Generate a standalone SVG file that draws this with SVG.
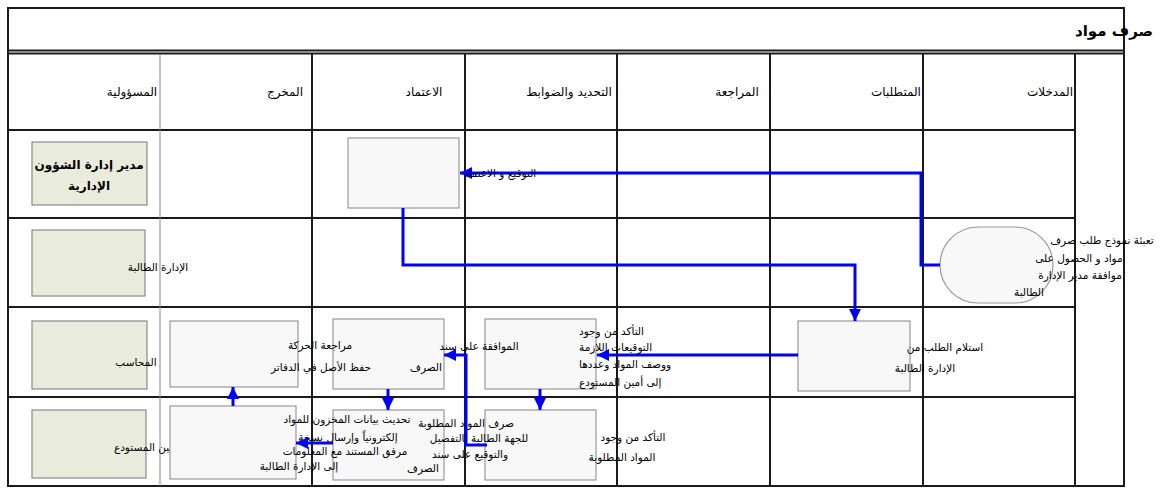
<svg xmlns="http://www.w3.org/2000/svg" width="1176" height="488" viewBox="0 0 1176 488">
<style>
  .grid{stroke:#1a1a1a;stroke-width:2;fill:none}
  .thin{stroke:#888;stroke-width:1;fill:none}
  .role{fill:#E9ECDC;stroke:#8a8a8a;stroke-width:1.2}
  .box{fill:#F8F8F8;stroke:#999;stroke-width:1.2}
  .t{font-family:"DejaVu Sans","Noto Sans",sans-serif;font-size:10.5px;fill:#000}
  .h{font-family:"DejaVu Sans","Noto Sans",sans-serif;font-size:12px;fill:#000}
  .b{font-family:"DejaVu Sans","Noto Sans",sans-serif;font-size:12px;font-weight:bold;fill:#000}
  .ttl{font-family:"DejaVu Sans","Noto Sans",sans-serif;font-size:15px;font-weight:bold;fill:#000}
  .c{stroke:#0000FF;stroke-width:3;fill:none}
</style>
<defs>
  <marker id="ah" markerUnits="userSpaceOnUse" markerWidth="14" markerHeight="14" refX="12" refY="6" orient="auto">
    <path d="M0,0 L12,6 L0,12 z" fill="#0000FF"/>
  </marker>
</defs>
<rect width="1176" height="488" fill="#fff"/>

<g id="table">
  <rect x="8" y="8" width="1116" height="478" class="grid"/>
  <line x1="8" y1="50.5" x2="1124" y2="50.5" class="grid" stroke-width="1.5"/>
  <line x1="8" y1="53.5" x2="1124" y2="53.5" class="grid" stroke-width="1.5"/>
  <line x1="8" y1="130" x2="1075" y2="130" class="grid"/>
  <line x1="8" y1="218" x2="1075" y2="218" class="grid"/>
  <line x1="8" y1="307" x2="1075" y2="307" class="grid"/>
  <line x1="8" y1="397" x2="1075" y2="397" class="grid"/>
  <line x1="160" y1="54" x2="160" y2="486" class="thin"/>
  <line x1="312" y1="54" x2="312" y2="486" class="grid"/>
  <line x1="465" y1="54" x2="465" y2="486" class="grid"/>
  <line x1="617" y1="54" x2="617" y2="486" class="grid"/>
  <line x1="770" y1="54" x2="770" y2="486" class="grid"/>
  <line x1="923" y1="54" x2="923" y2="486" class="grid"/>
  <line x1="1075" y1="54" x2="1075" y2="486" class="grid"/>
  <text x="1114" y="36" class="ttl" text-anchor="middle">صرف مواد</text>
  <text x="1050" y="96" class="h" text-anchor="middle">المدخلات</text>
  <text x="896" y="96" class="h" text-anchor="middle">المتطلبات</text>
  <text x="737" y="96" class="h" text-anchor="middle">المراجعة</text>
  <text x="569" y="96" class="h" text-anchor="middle">التحديد والضوابط</text>
  <text x="424" y="96" class="h" text-anchor="middle">الاعتماد</text>
  <text x="285" y="96" class="h" text-anchor="middle">المخرج</text>
  <text x="132" y="96" class="h" text-anchor="middle">المسؤولية</text>
</g>

<g id="role1">
  <rect x="32" y="142" width="115" height="63" class="role"/>
  <text x="89" y="169" class="b" text-anchor="middle">مدير إدارة الشؤون</text>
  <text x="89" y="190" class="b" text-anchor="middle">الإدارية</text>
</g>
<g id="role2">
  <rect x="32" y="230" width="113" height="66" class="role"/>
  <text x="158" y="271" class="t" text-anchor="middle">الإدارة الطالبة</text>
</g>
<g id="role3">
  <rect x="32" y="321" width="115" height="68" class="role"/>
  <text x="136" y="366" class="t" text-anchor="middle">المحاسب</text>
</g>
<g id="role4">
  <rect x="32" y="410" width="114" height="68" class="role"/>
  <text x="146" y="451" class="t" text-anchor="middle">أمين المستودع</text>
</g>

<g id="start">
  <rect x="940" y="227" width="113" height="76" rx="38" ry="38" class="box"/>
  <text x="1102" y="244" class="t" text-anchor="middle">تعبئة نموذج طلب صرف</text>
  <text x="1079" y="262" class="t" text-anchor="middle">مواد و الحصول على</text>
  <text x="1080" y="279" class="t" text-anchor="middle">موافقة مدير الإدارة</text>
  <text x="1029" y="296" class="t" text-anchor="middle">الطالبة</text>
</g>

<g id="approve">
  <rect x="348" y="138" width="111" height="70" class="box"/>
</g>

<g id="receive">
  <rect x="798" y="321" width="112" height="70" class="box"/>
  <text x="945" y="351" class="t" text-anchor="middle">استلام الطلب من</text>
  <text x="925" y="372" class="t" text-anchor="middle">الإدارة الطالبة</text>
</g>

<g id="check">
  <rect x="485" y="319" width="111" height="70" class="box"/>
  <text x="579" y="335" class="t" text-anchor="start">التأكد من وجود</text>
  <text x="579" y="351" class="t" text-anchor="start">التوقيعات اللازمة</text>
  <text x="579" y="368" class="t" text-anchor="start">ووصف المواد وعددها</text>
  <text x="579" y="386" class="t" text-anchor="start">إلى أمين المستودع</text>
</g>

<g id="stock">
  <rect x="485" y="410" width="111" height="70" class="box"/>
  <text x="633" y="441" class="t" text-anchor="middle">التأكد من وجود</text>
  <text x="622" y="461" class="t" text-anchor="middle">المواد المطلوبة</text>
</g>

<g id="voucher">
  <rect x="333" y="319" width="111" height="70" class="box"/>
  <text x="479" y="350" class="t" text-anchor="middle">الموافقة على سند</text>
  <text x="426" y="371" class="t" text-anchor="middle">الصرف</text>
</g>

<g id="record">
  <rect x="170" y="321" width="128" height="66" class="box"/>
  <text x="320" y="349" class="t" text-anchor="middle">مراجعة الحركة</text>
  <text x="321" y="371" class="t" text-anchor="middle">حفظ الأصل في الدفاتر</text>
</g>

<g id="issue">
  <rect x="333" y="410" width="111" height="70" class="box"/>
  <text x="466" y="427" class="t" text-anchor="middle">صرف المواد المطلوبة</text>
  <text x="479" y="442" class="t" text-anchor="middle">للجهة الطالبة بالتفصيل</text>
  <text x="470" y="458" class="t" text-anchor="middle">والتوقيع على سند</text>
  <text x="423" y="472" class="t" text-anchor="middle">الصرف</text>
</g>

<g id="update">
  <rect x="170" y="406" width="126" height="73" class="box"/>
  <text x="347" y="423" class="t" text-anchor="middle">تحديث بيانات المخزون للمواد</text>
  <text x="348" y="441" class="t" text-anchor="middle">إلكترونياً وإرسال نسخة</text>
  <text x="345" y="455" class="t" text-anchor="middle">مرفق المستند مع المعلومات</text>
  <text x="299" y="470" class="t" text-anchor="middle">إلى الإدارة الطالبة</text>
</g>

<g id="connectors">
  <polyline points="940,265 921,265 921,173 460,173" class="c" marker-end="url(#ah)"/>
  <text x="500" y="177" class="t" text-anchor="middle">التوقيع و الاعتماد</text>
  <polyline points="403,208 403,265 855,265 855,321" class="c" marker-end="url(#ah)"/>
  <line x1="798" y1="355" x2="597" y2="355" class="c" marker-end="url(#ah)"/>
  <line x1="540" y1="389" x2="540" y2="410" class="c" marker-end="url(#ah)"/>
  <polyline points="487,445 466,445 466,355 444,355" class="c" marker-end="url(#ah)"/>
  <line x1="388" y1="389" x2="388" y2="410" class="c" marker-end="url(#ah)"/>
  <line x1="333" y1="443" x2="296" y2="443" class="c" marker-end="url(#ah)"/>
  <line x1="233" y1="406" x2="233" y2="387" class="c" marker-end="url(#ah)"/>
</g>
</svg>
